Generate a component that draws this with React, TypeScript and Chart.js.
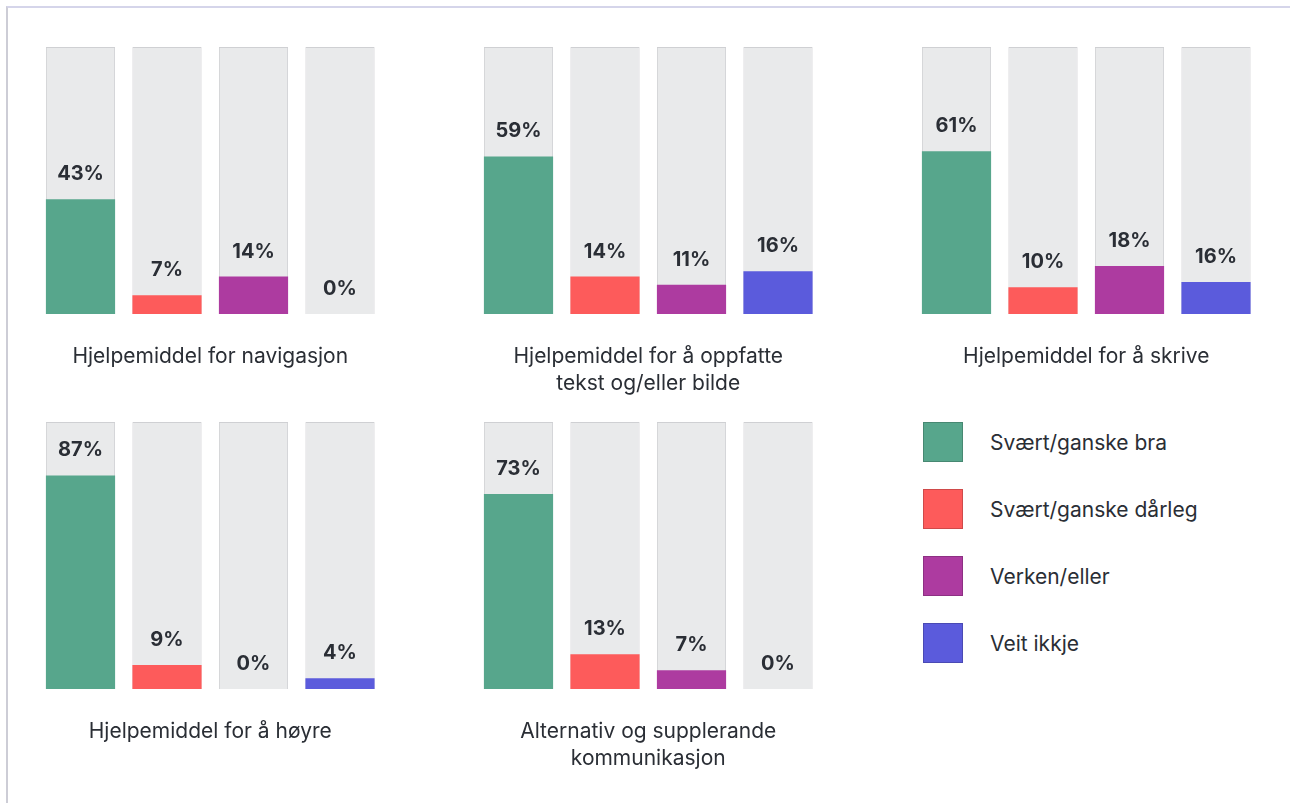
import React, { useEffect, useRef } from "react";
import { Chart, registerables } from "chart.js";

Chart.register(...registerables);

const categories = ["Svært/ganske bra", "Svært/ganske dårleg", "Verken/eller", "Veit ikkje"];
const seriesColors = ["#57a68c", "#fd5b5b", "#ad3ba0", "#5b5bdc"];

const panelTitles: string[][] = [
  ["Hjelpemiddel for navigasjon"],
  ["Hjelpemiddel for å oppfatte", "tekst og/eller bilde"],
  ["Hjelpemiddel for å skrive"],
  ["Hjelpemiddel for å høyre"],
  ["Alternativ og supplerande", "kommunikasjon"],
];

// bar heights as drawn in the picture
const navigasjonValues = [43, 7, 14, 0];
const oppfatteValues = [59, 14, 11, 16];
const skriveValues = [61, 10, 18, 12];
const hoyreValues = [80, 9, 0, 4];
const kommunikasjonValues = [73, 13, 7, 0];

// value labels as printed in the picture
const navigasjonLabels = [43, 7, 14, 0];
const oppfatteLabels = [59, 14, 11, 16];
const skriveLabels = [61, 10, 18, 16];
const hoyreLabels = [87, 9, 0, 4];
const kommunikasjonLabels = [73, 13, 7, 0];

const panelValues = [navigasjonValues, oppfatteValues, skriveValues, hoyreValues, kommunikasjonValues];
const panelLabels = [navigasjonLabels, oppfatteLabels, skriveLabels, hoyreLabels, kommunikasjonLabels];
const trackValues = [100, 100, 100, 100];

const FONT = "Inter, 'Noto Sans', sans-serif";
const TEXT = "#2a2e35";

function Panel({ index }: { index: number }) {
  const ref = useRef<HTMLCanvasElement | null>(null);
  useEffect(() => {
    let chart: Chart | null = null;
    let cancelled = false;
    const make = () => {
      if (cancelled || !ref.current) return;
      const labels = panelLabels[index];
      const titleLines = panelTitles[index];
      const overlay = {
        id: "overlay" + index,
        afterDatasetsDraw(c: any) {
          const ctx = c.ctx;
          const meta = c.getDatasetMeta(0);
          ctx.save();
          ctx.fillStyle = TEXT;
          ctx.textAlign = "center";
          ctx.textBaseline = "alphabetic";
          ctx.font = `700 20px ${FONT}`;
          meta.data.forEach((bar: any, i: number) => {
            ctx.fillText(labels[i] + "%", bar.x, bar.y - 19);
          });
          ctx.font = `400 21px ${FONT}`;
          ctx.textBaseline = "middle";
          const cx = (c.chartArea.left + c.chartArea.right) / 2;
          titleLines.forEach((line, k) => {
            ctx.fillText(line, cx, c.chartArea.bottom + 42.5 + k * 27);
          });
          ctx.restore();
        },
      };
      chart = new Chart(ref.current, {
        type: "bar",
        data: {
          labels: categories,
          datasets: [
            {
              data: panelValues[index],
              backgroundColor: seriesColors,
              borderWidth: 0,
              grouped: false,
              order: 1,
              categoryPercentage: 0.8,
              barPercentage: 1,
            } as any,
            {
              data: trackValues,
              backgroundColor: "#e9eaeb",
              borderColor: "#cfd0d3",
              borderWidth: 1,
              grouped: false,
              order: 2,
              categoryPercentage: 0.8,
              barPercentage: 1,
            } as any,
          ],
        },
        options: {
          animation: false,
          responsive: false,
          maintainAspectRatio: false,
          layout: { padding: { left: 27.25, right: 26.75, top: 27, bottom: 86 } },
          scales: {
            x: { display: false },
            y: { display: false, min: 0, max: 100 },
          },
          plugins: {
            legend: { display: false },
            tooltip: { enabled: false },
            title: { display: false },
          },
        },
        plugins: [overlay],
      });
    };
    if ((document as any).fonts && (document as any).fonts.load) {
      Promise.all([
        (document as any).fonts.load(`700 20px Inter`),
        (document as any).fonts.load(`400 21px Inter`),
      ]).then(make, make);
    } else make();
    return () => {
      cancelled = true;
      if (chart) chart.destroy();
    };
  }, [index]);
  const col = index % 3;
  const row = Math.floor(index / 3);
  return (
    <canvas
      ref={ref}
      width={400}
      height={380}
      style={{ position: "absolute", left: 10 + 438 * col, top: 20 + 375 * row, width: 400, height: 380 }}
    />
  );
}

export default function App() {
  return (
    <div style={{ position: "absolute", left: 0, top: 0, width: 1290, height: 803, background: "#fff", overflow: "hidden" }}>
      <div
        style={{
          position: "absolute",
          left: 6,
          top: 6,
          width: 1300,
          height: 820,
          borderTop: "2px solid #d5d5ea",
          borderLeft: "2px solid #cdcdd6",
          boxSizing: "border-box",
        }}
      />
      {panelValues.map((_, i) => (
        <Panel key={i} index={i} />
      ))}
      {categories.map((name, i) => (
        <div key={name} style={{ position: "absolute", left: 923, top: 422 + 67 * i, height: 40, display: "flex", alignItems: "center" }}>
          <div
            style={{
              width: 40,
              height: 40,
              boxSizing: "border-box",
              background: seriesColors[i],
              border: "1px solid rgba(0,0,0,0.18)",
            }}
          />
          <span style={{ marginLeft: 27, font: `400 21px ${FONT}`, color: TEXT, whiteSpace: "nowrap" }}>{name}</span>
        </div>
      ))}
    </div>
  );
}
